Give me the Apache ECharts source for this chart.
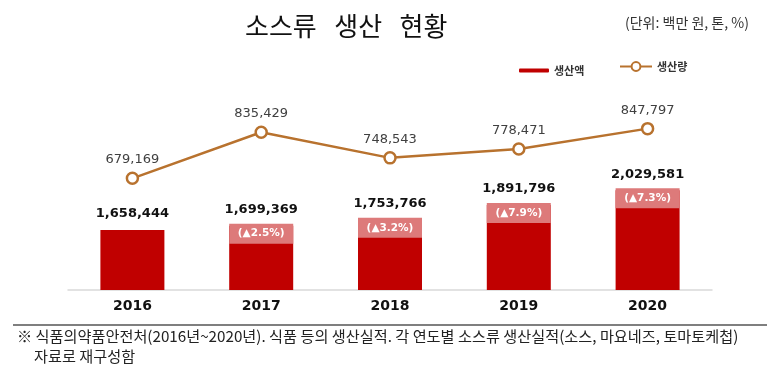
<!DOCTYPE html>
<html>
<head>
<meta charset="utf-8">
<script src="https://cdn.jsdelivr.net/npm/echarts@6/dist/echarts.min.js"></script>
<style>
	html, body { margin: 0; padding: 0; background: #fff; }
	#chart { width: 780px; height: 375px; }
</style>
</head>
<body>
<div id="chart"></div>
<script>
	// 연도
	var years = ['2016', '2017', '2018', '2019', '2020'];
	// 생산액 (백만 원)
	var amount = [1658444, 1699369, 1753766, 1891796, 2029581];
	// 생산량 (톤)
	var volume = [679169, 835429, 748543, 778471, 847797];
	// 전년 대비 증가율
	var growth = ['', '▲2.5%', '▲3.2%', '▲7.9%', '▲7.3%'];

	function fmt(v) {
		return v.toLocaleString('en-US');
	}

	var chart = echarts.init(document.getElementById('chart'));

	var option = {
		backgroundColor: '#fff',
		animation: false,
		grid: { left: 68, right: 68, top: 100, bottom: 85 },
		legend: [{
			data: ['생산액'],
			left: 514, top: 60,
			itemWidth: 30, itemHeight: 4,
			textStyle: { fontFamily: 'Noto Sans CJK KR', fontWeight: 'bold', fontSize: 11, color: '#333' }
		}, {
			data: ['생산량'],
			left: 614, top: 56,
			itemWidth: 32, itemHeight: 11,
			textStyle: { fontFamily: 'Noto Sans CJK KR', fontWeight: 'bold', fontSize: 11, color: '#333' }
		}],
		xAxis: {
			type: 'category',
			data: years,
			axisTick: { show: false },
			axisLine: { lineStyle: { color: '#d9d9d9', width: 1.5 } },
			axisLabel: { margin: 9, color: '#111', fontFamily: 'DejaVu Sans', fontWeight: 'bold', fontSize: 14 }
		},
		yAxis: [{
			type: 'value', min: 1100000, max: 2870000, show: false
		}, {
			type: 'value', min: 300000, max: 945000, show: false
		}],
		series: [{
			name: '생산액',
			type: 'bar',
			yAxisIndex: 0,
			barWidth: 64,
			itemStyle: { color: '#c00000' },
			data: amount,
			label: {
				show: true,
				position: 'insideTop',
				distance: 0,
				offset: [0, -30],
				formatter: function (p) {
					var s = '{v|' + fmt(p.value) + '}';
					if (growth[p.dataIndex]) {
						s += '\n{p|(' + growth[p.dataIndex] + ')}';
					}
					return s;
				},
				rich: {
					v: { height: 30, lineHeight: 28, fontFamily: 'DejaVu Sans', fontWeight: 'bold', fontSize: 13, color: '#111' },
					p: { width: 64, height: 20, lineHeight: 20, align: 'center', backgroundColor: '#dd7a7a',
						fontFamily: 'DejaVu Sans', fontWeight: 'bold', fontSize: 10.5, color: '#fff' }
				}
			}
		}, {
			name: '생산량',
			type: 'line',
			yAxisIndex: 1,
			data: volume,
			symbol: 'circle',
			symbolSize: 11,
			lineStyle: { color: '#b8722e', width: 2.5 },
			itemStyle: { color: '#fff', borderColor: '#b8722e', borderWidth: 2.5 },
			label: {
				show: true,
				position: 'top',
				distance: 5,
				formatter: function (p) { return fmt(p.value); },
				fontFamily: 'DejaVu Sans', fontSize: 13, color: '#404040'
			}
		}],
		graphic: [{
			type: 'text', left: 245, top: 13,
			style: { text: '소스류   생산   현황', fontFamily: 'Noto Sans CJK KR', fontSize: 26, fill: '#111' }
		}, {
			type: 'text', left: 625, top: 16,
			style: { text: '(단위: 백만 원, 톤, %)', fontFamily: 'Noto Sans CJK KR', fontSize: 14, fill: '#333' }
		}, {
			type: 'line', shape: { x1: 13, y1: 325, x2: 767, y2: 325 },
			style: { stroke: '#555', lineWidth: 1.5 }
		}, {
			type: 'text', left: 17, top: 329,
			style: { text: '※ 식품의약품안전처(2016년~2020년). 식품 등의 생산실적. 각 연도별 소스류 생산실적(소스, 마요네즈, 토마토케첩)',
				fontFamily: 'Noto Sans CJK KR', fontSize: 15.2, fill: '#222' }
		}, {
			type: 'text', left: 34, top: 349,
			style: { text: '자료로 재구성함', fontFamily: 'Noto Sans CJK KR', fontSize: 15.2, fill: '#222' }
		}]
	};

	chart.setOption(option);
</script>
</body>
</html>
